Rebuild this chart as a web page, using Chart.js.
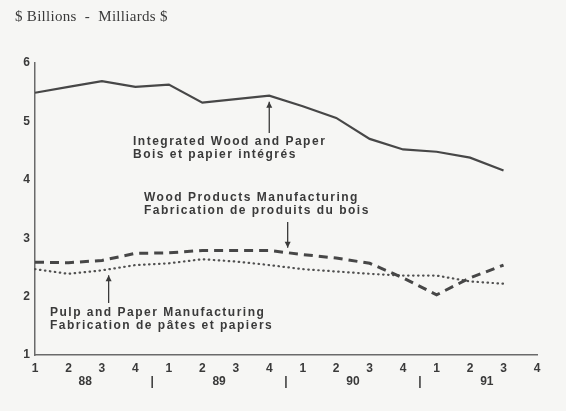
<!DOCTYPE html>
<html>
<head>
<meta charset="utf-8">
<script src="https://cdn.jsdelivr.net/npm/chart.js@4/dist/chart.umd.min.js"></script>
<style>
  html, body { margin: 0; padding: 0; background: #f6f6f4; }
  #wrap { width: 566px; height: 411px; }
</style>
</head>
<body>
<div id="wrap"><canvas id="chart" width="566" height="411"></canvas></div>
<script>
const quarterLabels = ["1", "2", "3", "4", "1", "2", "3", "4", "1", "2", "3", "4", "1", "2", "3", "4"];
const yearLabels = ["88", "89", "90", "91"];
const yTicks = [1, 2, 3, 4, 5, 6];

// $ billions, quarterly 1988 Q1 .. 1991 Q3
const integrated = [5.49, 5.59, 5.69, 5.59, 5.63, 5.32, 5.38, 5.44, 5.26, 5.06, 4.70, 4.52, 4.48, 4.38, 4.16];
const woodProducts = [2.59, 2.58, 2.62, 2.74, 2.75, 2.79, 2.79, 2.79, 2.72, 2.66, 2.57, 2.32, 2.03, 2.32, 2.54];
const pulpPaper = [2.47, 2.39, 2.45, 2.54, 2.57, 2.64, 2.60, 2.54, 2.47, 2.43, 2.39, 2.36, 2.36, 2.26, 2.22];

const ink = "#3a3a3a";
const sans = "'Liberation Sans', Arial, sans-serif";

// annotation text blocks and their arrows
const notes = [
  { lines: ["Integrated Wood and Paper", "Bois et papier intégrés"], x: 133, y: 142 },
  { lines: ["Wood Products Manufacturing", "Fabrication de produits du bois"], x: 144, y: 198 },
  { lines: ["Pulp and Paper Manufacturing", "Fabrication de pâtes et papiers"], x: 50, y: 313 }
];
const arrows = [
  { series: integrated, at: 7, from: 133, up: true },
  { series: woodProducts, at: 7.55, from: 222, up: false },
  { series: pulpPaper, at: 2.2, from: 303, up: true }
];

function valueAt(series, idx) {
  const i = Math.floor(idx);
  const f = idx - i;
  if (f === 0 || i + 1 >= series.length) return series[i];
  return series[i] + (series[i + 1] - series[i]) * f;
}

const decor = {
  id: "decor",
  beforeDraw(chart) {
    const ctx = chart.ctx;
    ctx.save();
    ctx.fillStyle = "#f6f6f4";
    ctx.fillRect(0, 0, chart.width, chart.height);
    ctx.restore();
  },
  afterDraw(chart) {
    const { ctx, chartArea, scales: { x, y } } = chart;
    ctx.save();
    ctx.fillStyle = ink;
    ctx.textBaseline = "middle";

    ctx.font = "15px 'Liberation Serif', 'Times New Roman', serif";
    ctx.letterSpacing = "0.3px";
    ctx.textAlign = "left";
    ctx.fillText("$ Billions  -  Milliards $", 15, 17);
    ctx.letterSpacing = "0px";

    ctx.font = "bold 12px " + sans;
    ctx.textAlign = "center";
    const yy = chartArea.bottom + 27;
    yearLabels.forEach((yr, i) => {
      ctx.fillText(yr, x.getPixelForValue(i * 4 + 1.5), yy);
      if (i > 0) ctx.fillText("|", x.getPixelForValue(i * 4 - 0.5), yy);
    });

    ctx.font = "bold 12px " + sans;
    ctx.letterSpacing = "1.5px";
    ctx.textAlign = "left";
    notes.forEach(n => {
      n.lines.forEach((line, k) => ctx.fillText(line, n.x, n.y + k * 13));
    });
    ctx.letterSpacing = "0px";

    ctx.strokeStyle = ink;
    ctx.lineWidth = 1.3;
    arrows.forEach(a => {
      const px = x.getPixelForValue(a.at);
      const tip = y.getPixelForValue(valueAt(a.series, a.at)) + (a.up ? 6 : -5);
      ctx.beginPath();
      ctx.moveTo(px, a.from);
      ctx.lineTo(px, tip);
      ctx.stroke();
      const d = a.up ? 1 : -1;
      ctx.beginPath();
      ctx.moveTo(px, tip);
      ctx.lineTo(px - 3, tip + 6 * d);
      ctx.lineTo(px + 3, tip + 6 * d);
      ctx.closePath();
      ctx.fill();
    });
    ctx.restore();
  }
};

new Chart(document.getElementById("chart"), {
  type: "line",
  data: {
    labels: quarterLabels,
    datasets: [
      { label: "Integrated Wood and Paper", data: integrated, borderColor: "#474747", borderWidth: 2.2 },
      { label: "Wood Products Manufacturing", data: woodProducts, borderColor: "#474747", borderWidth: 3, borderDash: [9, 6] },
      { label: "Pulp and Paper Manufacturing", data: pulpPaper, borderColor: "#505050", borderWidth: 2.2, borderDash: [0.5, 4.5], borderCapStyle: "round" }
    ]
  },
  options: {
    responsive: false,
    animation: false,
    events: [],
    elements: { point: { radius: 0 }, line: { tension: 0, fill: false } },
    layout: { padding: { top: 63, right: 29, bottom: 0, left: 0 } },
    plugins: { legend: { display: false }, tooltip: { enabled: false } },
    scales: {
      x: {
        type: "category",
        offset: false,
        grid: { display: false, drawTicks: false },
        border: { display: true, color: "#6a6a6a", width: 1.5 },
        ticks: { color: ink, font: { family: sans, size: 12, weight: "bold" }, padding: 6, autoSkip: false, maxRotation: 0 },
        afterFit(scale) { scale.height = 56; }
      },
      y: {
        min: 1,
        max: 6,
        afterBuildTicks(scale) { scale.ticks = yTicks.map(v => ({ value: v })); },
        grid: { display: false, drawTicks: false },
        border: { display: true, color: "#6a6a6a", width: 1.5 },
        ticks: { color: ink, font: { family: sans, size: 12, weight: "bold" }, padding: 5 },
        afterFit(scale) { scale.width = 35; }
      }
    }
  },
  plugins: [decor]
});
</script>
</body>
</html>
